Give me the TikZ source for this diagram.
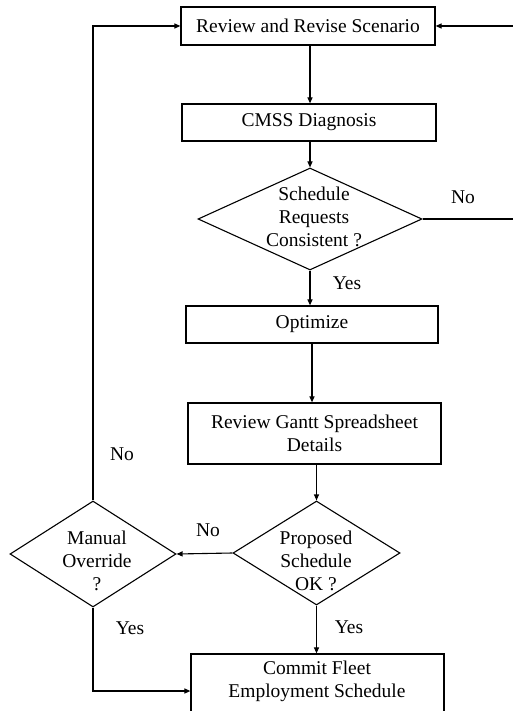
\documentclass[tikz,border=0pt]{standalone}
\usepackage{fontspec}
\setmainfont{Liberation Serif}
\usetikzlibrary{arrows.meta,shapes.geometric}
\begin{document}
\begin{tikzpicture}[x=1pt,y=-1pt,
  every node/.style={font=\fontsize{19.5}{23}\selectfont},
  procbox/.style={draw,line width=1.2pt,rectangle,inner sep=0pt,align=center},
  dia/.style={draw,line width=1.1pt,diamond,inner sep=0pt},
  dtext/.style={align=center,inner sep=0pt},
  lbl/.style={inner sep=0pt},
  conn/.style={line width=1.1pt},
  arr/.style={conn,-{Triangle[length=6pt,width=5pt]}}]
\useasboundingbox (0,0) rectangle (513,711);
\node[procbox,minimum width=254pt,minimum height=38pt] (b1) at (308,26) {Review and Revise Scenario};
\node[procbox,minimum width=254pt,minimum height=37pt] (b2) at (309,122.5) {CMSS Diagnosis};
\node[dia,minimum width=224pt,minimum height=102pt] (d1) at (310,219) {};
\node[dtext] (t1) at (314,217) {Schedule\\Requests\\Consistent ?};
\node[procbox,minimum width=252pt,minimum height=37pt] (b3) at (312,324.5) {Optimize};
\node[procbox,minimum width=253pt,minimum height=61pt] (b4) at (314.5,433.5) {Review Gantt Spreadsheet\\Details};
\node[dia,minimum width=167pt,minimum height=104pt] (d2) at (316.5,553) {};
\node[dtext] (t2) at (316,561) {Proposed\\Schedule\\OK ?};
\node[dia,minimum width=166pt,minimum height=106pt] (d3) at (93,554) {};
\node[dtext] (t3) at (97,561) {Manual\\Override\\?};
\node[procbox,minimum width=253pt,minimum height=70pt] (b5) at (317.5,689) {};
\node[dtext] (t5) at (317,681.5) {Commit Fleet\\Employment Schedule};
% connectors
\draw[arr] (b1.south -| d1.north) -- (b2.north -| d1.north);
\draw[arr] (b2.south -| d1.north) -- (d1.north);
\draw[arr] (d1.south) -- (d1.south |- b3.north);
\draw[arr] (b3.south) -- (b3.south |- b4.north);
\draw[arr] (b4.south -| d2.north) -- (d2.north);
\draw[arr] (d2.south) -- (d2.south |- b5.north);
\draw[arr] (d2.west) -- (d3.east);
\coordinate (rt) at (514,219);
\draw[arr] (d1.east) -- (rt) |- (b1.east);
\draw[arr] (d3.north) |- (b1.west);
\coordinate (bl) at (93,691);
\draw[arr] (d3.south) -- (bl) -- (bl -| b5.west);
% labels
\node[lbl] (ly1) at (347,283) {Yes};
\node[lbl] (ln1) at (463,197) {No};
\node[lbl] (ly2) at (349,627) {Yes};
\node[lbl] (ln2) at (208,530) {No};
\node[lbl] (ln3) at (122,454) {No};
\node[lbl] (ly3) at (130,628) {Yes};
\end{tikzpicture}
\end{document}
